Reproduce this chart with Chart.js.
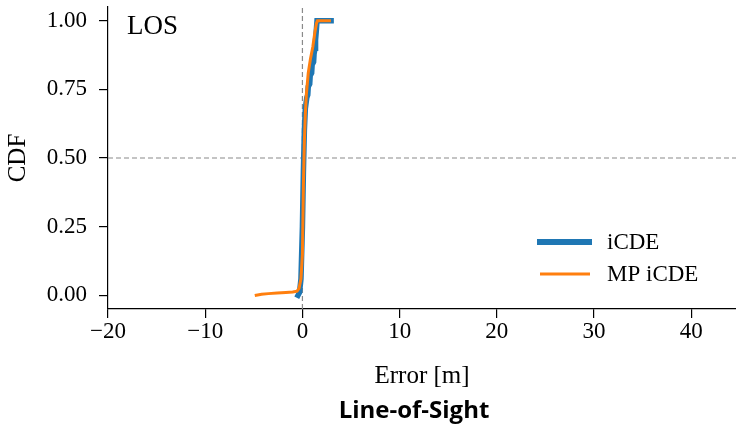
<!DOCTYPE html>
<html>
<head>
<meta charset="utf-8">
<script src="https://cdn.jsdelivr.net/npm/chart.js@4.4.1/dist/chart.umd.min.js"></script>
<style>
  html, body { margin: 0; padding: 0; background: #fff; }
</style>
</head>
<body>
<canvas id="cdfChart" width="736" height="430"></canvas>
<script>
// CDF of localisation error, line-of-sight case

const icdeErr = [-0.45, -0.3, -0.15, 0.0, 0.1, 0.2, 0.3, 0.45, 0.55, 0.6, 0.75, 0.8, 0.95, 1.0, 1.15, 1.2, 1.3, 1.35, 1.42, 1.5, 2.95];
const icdeCdf = [0.0, 0.01, 0.06, 0.25, 0.45, 0.6, 0.68, 0.72, 0.73, 0.76, 0.77, 0.8, 0.81, 0.84, 0.85, 0.88, 0.9, 0.93, 0.96, 1.0, 1.0];

const mpErr = [-4.75, -4.2, -3.5, -2.6, -1.7, -1.0, -0.55, -0.35, -0.15, 0.0, 0.1, 0.2, 0.3, 0.4, 0.6, 0.82, 1.07, 1.27, 1.44, 1.55, 2.78];
const mpCdf = [0.0, 0.004, 0.006, 0.008, 0.01, 0.012, 0.015, 0.025, 0.06, 0.15, 0.4, 0.56, 0.66, 0.73, 0.81, 0.86, 0.905, 0.955, 0.99, 1.0, 1.0];

const xTicks = [-20, -10, 0, 10, 20, 30, 40];
const yTicks = [0, 0.25, 0.5, 0.75, 1.0];
const xRange = [-20, 44.6];
const yRange = [-0.05, 1.05];

const refErr = 0;    // vertical dashed guide
const refCdf = 0.5;  // horizontal dashed guide

const SERIF = "'Liberation Serif', 'DejaVu Serif', serif";

const toPoints = (xs, ys) => xs.map((x, i) => ({ x, y: ys[i] }));
const minus = (v) => (v < 0 ? "\u2212" + Math.abs(v) : String(v));

// LOS tag, legend inside the axes, figure caption underneath
const overlay = {
  id: "overlay",
  afterDraw(chart) {
    const { ctx, chartArea: a } = chart;
    ctx.save();
    ctx.fillStyle = "#000";
    ctx.textBaseline = "alphabetic";
    ctx.textAlign = "left";
    ctx.font = `27px ${SERIF}`;
    ctx.fillText("LOS", a.left + 19, a.top + 27);

    // legend (first two datasets only)
    const items = chart.data.datasets.slice(0, 2);
    ctx.font = `23px ${SERIF}`;
    ctx.textBaseline = "middle";
    items.forEach((ds, i) => {
      const y = a.bottom - 67 + i * 32;
      ctx.strokeStyle = ds.borderColor;
      ctx.lineWidth = ds.legendWidth;
      ctx.lineCap = "butt";
      ctx.beginPath();
      ctx.moveTo(a.right - 199 + (i ? 3 : 0), y);
      ctx.lineTo(a.right - 144 - (i ? 2 : 0), y);
      ctx.stroke();
      ctx.fillText(ds.label, a.right - 129, y + 1);
    });

    ctx.font = "bold 24px 'Open Sans', 'Noto Sans', sans-serif";
    ctx.textAlign = "center";
    ctx.textBaseline = "alphabetic";
    ctx.fillText("Line-of-Sight", 414, 418);
    ctx.restore();
  }
};

new Chart(document.getElementById("cdfChart"), {
  type: "scatter",
  data: {
    datasets: [
      {
        label: "iCDE",
        data: toPoints(icdeErr, icdeCdf),
        showLine: true,
        borderColor: "#1f77b4",
        backgroundColor: "#1f77b4",
        borderWidth: 5.5,
        legendWidth: 6,
        borderCapStyle: "square",
        pointRadius: 0,
        order: 2,
      },
      {
        label: "MP iCDE",
        data: toPoints(mpErr, mpCdf),
        showLine: true,
        borderColor: "#ff7f0e",
        backgroundColor: "#ff7f0e",
        borderWidth: 3,
        legendWidth: 3,
        borderCapStyle: "square",
        pointRadius: 0,
        order: 1,
      },
      {
        label: "ref-x",
        data: [{ x: refErr, y: yRange[0] }, { x: refErr, y: yRange[1] }],
        showLine: true,
        borderColor: "#8a8a8a",
        borderWidth: 1.2,
        borderDash: [5, 3],
        pointRadius: 0,
        order: 3,
      },
      {
        label: "ref-y",
        data: [{ x: xRange[0], y: refCdf }, { x: xRange[1], y: refCdf }],
        showLine: true,
        borderColor: "#8a8a8a",
        borderWidth: 1.2,
        borderDash: [5, 3],
        pointRadius: 0,
        order: 3,
      },
    ],
  },
  options: {
    responsive: false,
    animation: false,
    devicePixelRatio: 1,
    layout: { padding: { top: 7, left: 0, right: 0, bottom: 0 } },
    plugins: {
      legend: { display: false },
      tooltip: { enabled: false },
    },
    scales: {
      x: {
        type: "linear",
        min: xRange[0],
        max: xRange[1],
        afterBuildTicks: (s) => { s.ticks = xTicks.map(v => ({ value: v })); },
        afterFit: (s) => { s.height = 121; s.paddingLeft = 0; s.paddingRight = 0; },
        grid: { display: true, drawOnChartArea: false, drawTicks: true, tickLength: 9, color: "#000", lineWidth: 1.2 },
        border: { display: true, color: "#000", width: 1.2 },
        ticks: {
          autoSkip: false, maxRotation: 0, color: "#000", padding: 0,
          font: { family: SERIF, size: 23 },
          callback: (v) => minus(v),
        },
        title: {
          display: true, text: "Error [m]", color: "#000",
          font: { family: SERIF, size: 25 },
          padding: { top: 0, bottom: 39 },
        },
      },
      y: {
        type: "linear",
        min: yRange[0],
        max: yRange[1],
        afterBuildTicks: (s) => { s.ticks = yTicks.map(v => ({ value: v })); },
        afterFit: (s) => { s.width = 108; s.paddingTop = 0; s.paddingBottom = 0; },
        grid: { display: true, drawOnChartArea: false, drawTicks: true, tickLength: 9, color: "#000", lineWidth: 1.2 },
        border: { display: true, color: "#000", width: 1.2 },
        ticks: {
          autoSkip: false, color: "#000", padding: 12,
          font: { family: SERIF, size: 23 },
          callback: (v) => v.toFixed(2),
        },
        title: {
          display: true, text: "CDF", color: "#000",
          font: { family: SERIF, size: 25 },
          padding: { top: 3, bottom: 0 },
        },
      },
    },
  },
  plugins: [overlay],
});
</script>
</body>
</html>
